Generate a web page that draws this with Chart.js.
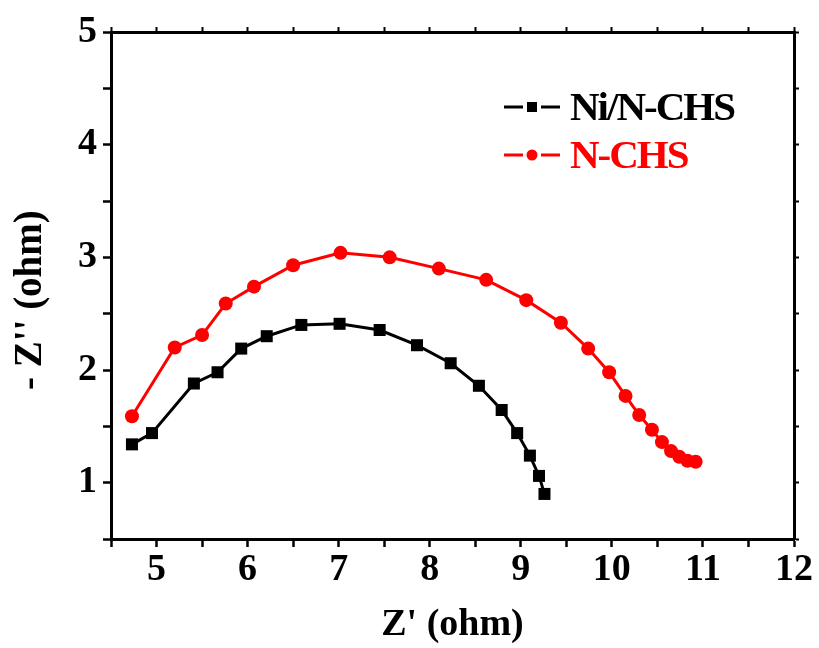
<!DOCTYPE html>
<html>
<head>
<meta charset="utf-8">
<script src="https://cdn.jsdelivr.net/npm/chart.js@4/dist/chart.umd.min.js"></script>
<style>
  body { margin: 0; background: #fff; }
  canvas { display: block; }
</style>
</head>
<body>
<canvas id="grafica" width="819" height="648"></canvas>
<script>
// datos
const niX = [4.73, 4.95, 5.41, 5.67, 5.93, 6.21, 6.59, 7.01, 7.45, 7.86, 8.23, 8.54, 8.79, 8.96, 9.10, 9.20, 9.26];
const niY = [1.34, 1.44, 1.88, 1.98, 2.19, 2.30, 2.40, 2.41, 2.355, 2.22, 2.06, 1.86, 1.645, 1.44, 1.24, 1.06, 0.90];
const nX = [4.73, 5.20, 5.50, 5.76, 6.07, 6.50, 7.02, 7.56, 8.10, 8.62, 9.06, 9.44, 9.74, 9.97, 10.15, 10.30, 10.44, 10.55, 10.65, 10.74, 10.83, 10.92];
const nY = [1.59, 2.20, 2.31, 2.59, 2.74, 2.93, 3.04, 3.00, 2.90, 2.80, 2.62, 2.42, 2.19, 1.98, 1.77, 1.60, 1.47, 1.36, 1.28, 1.23, 1.195, 1.185];
const seriesNames = ["Ni/N-CHS", "N-CHS"];
const seriesColors = ["#000000", "#ff0000"];

const xMin = 4.5, xMax = 12;
const yMin = 0.5, yMax = 5;

const toPoints = (xs, ys) => xs.map((x, i) => ({ x: x, y: ys[i] }));

const fuente = "'Liberation Serif', 'Times New Roman', serif";

const etiquetaEntera = (v) => (Number.isInteger(v) ? v : "");

const leyenda = {
  id: "leyenda",
  afterDraw(chart) {
    const ctx = chart.ctx;
    const area = chart.chartArea;
    const filas = [area.top + 75, area.top + 123];
    ctx.save();
    seriesNames.forEach((name, i) => {
      const y = filas[i];
      const x0 = area.left + 393;
      ctx.strokeStyle = seriesColors[i];
      ctx.fillStyle = seriesColors[i];
      ctx.lineWidth = 3;
      ctx.beginPath();
      ctx.moveTo(x0, y);
      ctx.lineTo(x0 + 19, y);
      ctx.moveTo(x0 + 37, y);
      ctx.lineTo(x0 + 56, y);
      ctx.stroke();
      ctx.beginPath();
      if (i === 0) {
        ctx.rect(x0 + 23, y - 5, 10, 10);
      } else {
        ctx.arc(x0 + 28, y, 5.5, 0, Math.PI * 2);
      }
      ctx.fill();
      ctx.font = "bold 41px " + fuente;
      ctx.letterSpacing = "-2px";
      ctx.textBaseline = "middle";
      ctx.fillText(name, x0 + 66, y + 2);
    });
    ctx.restore();
  },
};

const ejeBase = (pos) => ({
  type: "linear",
  position: pos,
  grid: { drawOnChartArea: false, drawTicks: true, tickLength: 8, tickWidth: 2.5, tickColor: "#000" },
  border: { color: "#000", width: 3 },
});

const ctx = document.getElementById("grafica").getContext("2d");
new Chart(ctx, {
  type: "scatter",
  data: {
    datasets: [
      {
        label: seriesNames[0],
        data: toPoints(niX, niY),
        showLine: true,
        borderColor: seriesColors[0],
        backgroundColor: seriesColors[0],
        borderWidth: 3,
        pointStyle: "rect",
        pointRadius: 8.5,
        pointBorderWidth: 0,
        xAxisID: "x",
        yAxisID: "y",
      },
      {
        label: seriesNames[1],
        data: toPoints(nX, nY),
        showLine: true,
        borderColor: seriesColors[1],
        backgroundColor: seriesColors[1],
        borderWidth: 3,
        pointStyle: "circle",
        pointRadius: 7,
        pointBorderWidth: 0,
        xAxisID: "x",
        yAxisID: "y",
      },
    ],
  },
  options: {
    responsive: false,
    animation: false,
    layout: { padding: 0 },
    plugins: { legend: { display: false }, tooltip: { enabled: false } },
    scales: {
      x: {
        ...ejeBase("bottom"),
        min: xMin,
        max: xMax,
        ticks: {
          stepSize: 0.5,
          autoSkip: false,
          maxRotation: 0,
          callback: etiquetaEntera,
          color: "#000",
          padding: 0,
          font: { family: fuente, size: 38, weight: "bold" },
        },
        title: {
          display: true,
          text: "Z' (ohm)",
          color: "#000",
          padding: { top: 0, bottom: 0 },
          font: { family: fuente, size: 38, weight: "bold" },
        },
        afterFit: (s) => { s.height = 109; },
      },
      y: {
        ...ejeBase("left"),
        min: yMin,
        max: yMax,
        ticks: {
          stepSize: 0.5,
          autoSkip: false,
          callback: etiquetaEntera,
          color: "#000",
          padding: 6,
          font: { family: fuente, size: 38, weight: "bold" },
        },
        title: {
          display: true,
          text: "- Z'' (ohm)   ",
          color: "#000",
          padding: { top: 8, bottom: 0 },
          font: { family: fuente, size: 39, weight: "bold" },
        },
        afterFit: (s) => { s.width = 111; },
      },
      x2: {
        ...ejeBase("top"),
        min: xMin,
        max: xMax,
        grid: { drawOnChartArea: false, drawTicks: true, tickLength: 5, tickWidth: 2, tickColor: "#000" },
        ticks: { stepSize: 0.5, display: false },
        afterFit: (s) => { s.height = 32; },
      },
      y2: {
        ...ejeBase("right"),
        min: yMin,
        max: yMax,
        grid: { drawOnChartArea: false, drawTicks: true, tickLength: 5, tickWidth: 2, tickColor: "#000" },
        ticks: { stepSize: 0.5, display: false },
        afterFit: (s) => { s.width = 25; },
      },
    },
  },
  plugins: [leyenda],
});
</script>
</body>
</html>
